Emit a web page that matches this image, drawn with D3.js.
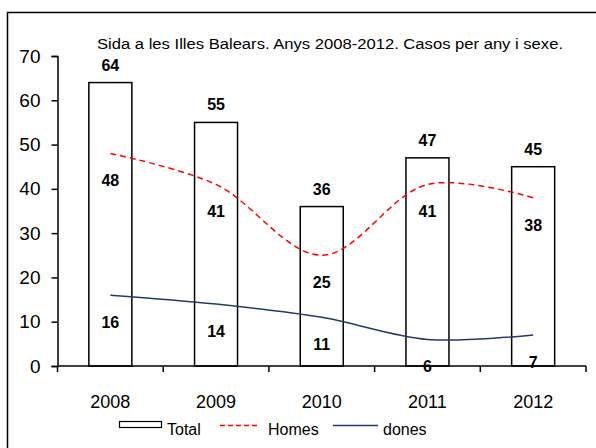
<!DOCTYPE html>
<html><head><meta charset="utf-8">
<script src="https://cdn.jsdelivr.net/npm/d3@7"></script>
<style>body{margin:0;background:#fff}svg{display:block;font-family:"Liberation Sans",Arial,sans-serif}</style>
</head><body><svg id="c" width="596" height="448"></svg>
<script>
const years = ["2008","2009","2010","2011","2012"];
const total = [64,55,36,47,45];
const homes = [48,41,25,41,38];
const dones = [16,14,11,6,7];
const yTicks = [0,10,20,30,40,50,60,70];
const title = "Sida a les Illes Balears. Anys 2008-2012. Casos per any i sexe.";

const svg = d3.select("#c");
svg.append("rect").attr("x",7.5).attr("y",12.5).attr("width",620).attr("height",460)
  .attr("fill","#fff").attr("stroke","#000").attr("stroke-width",1.5);

const x = d3.scaleBand().domain(years).range([57.5,586]);
const y = d3.scaleLinear().domain([0,70]).range([366,56]);
const cx = d => x(d)+x.bandwidth()/2;
const bw = 43;

// bars
svg.selectAll(".bar").data(years).enter().append("rect")
  .attr("x",d=>cx(d)-bw/2).attr("y",(d,i)=>y(total[i]))
  .attr("width",bw).attr("height",(d,i)=>y(0)-y(total[i]))
  .attr("fill","#fff").attr("stroke","#000").attr("stroke-width",1.5);

// axes
const ya = svg.append("g").attr("transform","translate(57.5,0)")
  .call(d3.axisLeft(y).tickValues(yTicks).tickSize(6).tickPadding(11));
ya.selectAll("text").attr("font-size",19).attr("fill","#000").attr("font-family","Liberation Sans, Arial, sans-serif");
ya.select(".domain").attr("stroke","#000").attr("stroke-width",1.5);
ya.selectAll(".tick line").attr("stroke","#000").attr("stroke-width",1.5);

const xa = svg.append("g").attr("transform","translate(0,366)");
xa.append("line").attr("x1",57.5).attr("x2",586).attr("stroke","#000").attr("stroke-width",1.5);
const bounds = years.map(d=>x(d)).concat([x.range()[1]]);
xa.selectAll(".tk").data(bounds).enter().append("line")
  .attr("x1",d=>d).attr("x2",d=>d).attr("y1",0).attr("y2",6).attr("stroke","#000").attr("stroke-width",1.5);
xa.selectAll(".yl").data(years).enter().append("text")
  .attr("x",d=>cx(d)).attr("y",42).attr("text-anchor","middle").attr("font-size",18).text(d=>d);

// lines
const line = d3.line().x((d,i)=>cx(years[i])).y(d=>y(d)).curve(d3.curveCatmullRom.alpha(0.5));
svg.append("path").datum(homes).attr("d",line).attr("fill","none")
  .attr("stroke","#ff0000").attr("stroke-width",1.5).attr("stroke-dasharray","6,4");
svg.append("path").datum(dones).attr("d",line).attr("fill","none")
  .attr("stroke","#1f3b70").attr("stroke-width",1.5);

// labels
const lab = (arr,off) => svg.append("g").selectAll("text").data(arr).enter().append("text")
  .attr("x",(d,i)=>cx(years[i])).attr("y",d=>y(d)+off).attr("text-anchor","middle")
  .attr("font-size",16).attr("font-weight","bold").text(d=>d);
lab(total,-12);
lab(homes,33);
lab(dones,33);

// title
svg.append("text").attr("x",330).attr("y",49).attr("text-anchor","middle")
  .attr("font-size",14).attr("textLength",466).attr("lengthAdjust","spacingAndGlyphs").text(title);

// legend
const lg = svg.append("g");
lg.append("rect").attr("x",119.5).attr("y",421.5).attr("width",42).attr("height",6)
  .attr("fill","#fff").attr("stroke","#000").attr("stroke-width",1.2);
lg.append("text").attr("x",167).attr("y",435).attr("font-size",16).text("Total");
lg.append("line").attr("x1",220).attr("x2",260).attr("y1",425.5).attr("y2",425.5)
  .attr("stroke","#ff0000").attr("stroke-width",1.5).attr("stroke-dasharray","5,3");
lg.append("text").attr("x",268).attr("y",435).attr("font-size",16).text("Homes");
lg.append("line").attr("x1",333).attr("x2",378).attr("y1",425.5).attr("y2",425.5)
  .attr("stroke","#1f3b70").attr("stroke-width",1.5);
lg.append("text").attr("x",383).attr("y",435).attr("font-size",16).text("dones");
</script></body></html>
